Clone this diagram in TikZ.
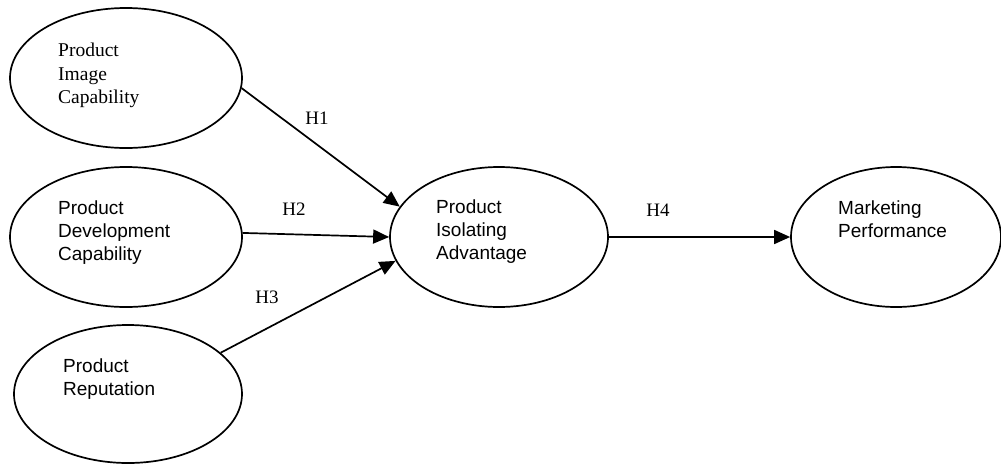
\documentclass[tikz,border=0pt]{standalone}
\usepackage{fontspec}
\setmainfont{Liberation Serif}
\newfontfamily\arialfont{Liberation Sans}
\usetikzlibrary{shapes.geometric,arrows.meta}
\begin{document}
\begin{tikzpicture}[x=1pt,y=-1pt,
  construct/.style={ellipse,draw,line width=1.7pt,inner sep=0pt},
  label/.style={align=left,anchor=north west,inner sep=0pt,font=\arialfont\fontsize{19}{23}\selectfont},
  serifl/.style={align=left,anchor=north west,inner sep=0pt,font=\fontsize{19.5}{23.5}\selectfont},
  hyp/.style={inner sep=0pt,font=\fontsize{19}{21}\selectfont},
  path/.style={line width=1.7pt,-{Triangle[length=16pt,width=14pt]}}]
\useasboundingbox (0,0) rectangle (1001,464);

% constructs
\node[construct,minimum width=232pt,minimum height=140pt] (pic) at (126,78) {};
\node[construct,minimum width=232pt,minimum height=140pt] (pdc) at (126,237) {};
\node[construct,minimum width=228pt,minimum height=138pt] (pr)  at (128,394) {};
\node[construct,minimum width=218pt,minimum height=140pt] (pia) at (499,237) {};
\node[construct,minimum width=210pt,minimum height=140pt] (mp)  at (896,237) {};

% construct names
\node[serifl] (tpic) at (58,43) {Product\\Image\\Capability};
\node[label] (tpdc) at (58,201) {Product\\Development\\Capability};
\node[label] (tpr)  at (63,359) {Product\\Reputation};
\node[label] (tpia) at (436,200) {Product\\Isolating\\Advantage};
\node[label] (tmp)  at (838,201) {Marketing\\Performance};

% hypothesised paths
\draw[path] (pic.-5) -- (pia.163.7);
\draw[path] (pdc.2.5) -- (pia.180);
\draw[path] (pr.24) -- (pia.193.8);
\draw[path] (pia.east) -- (mp.west);

% hypothesis labels
\node[hyp] (h1) at (317,118) {H1};
\node[hyp] (h2) at (294,209) {H2};
\node[hyp] (h3) at (267,297) {H3};
\node[hyp] (h4) at (658,210) {H4};
\end{tikzpicture}
\end{document}
